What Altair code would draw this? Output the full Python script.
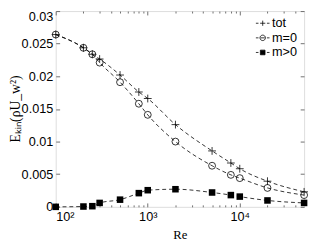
import altair as alt
import pandas as pd

re_vals = [100, 200, 250, 300, 500, 800, 1000, 2000, 5000, 8000, 10000, 20000, 50000]
tot = [0.0264, 0.02437, 0.02338, 0.02265, 0.0202, 0.0176, 0.0166, 0.0126, 0.00857, 0.00672, 0.00584, 0.00393, 0.0023]
m0 = [0.0264, 0.02437, 0.02338, 0.0221, 0.0191, 0.0158, 0.0141, 0.0100, 0.0063, 0.0049, 0.0044, 0.0029, 0.0018]
mpos = [0.0000, 0.00005, 0.0001, 0.0006, 0.0011, 0.0021, 0.00255, 0.0027, 0.0022, 0.0018, 0.00157, 0.00098, 0.0006]
series_names = ["tot", "m=0", "m>0"]

major_x = [100, 1000, 10000]
minor_x = [200, 300, 400, 500, 600, 700, 800, 900,
           2000, 3000, 4000, 5000, 6000, 7000, 8000, 9000,
           20000, 30000, 40000]
y_ticks = [0, 0.005, 0.01, 0.015, 0.02, 0.025, 0.03]

rows = []
for name, vals in zip(series_names, [tot, m0, mpos]):
    for r, v in zip(re_vals, vals):
        rows.append({"Re": r, "value": v, "series": name})
df = pd.DataFrame(rows)

GRAY = "#6e6e6e"
xscale = alt.Scale(type="log", domain=[100, 50000], nice=False)
yscale = alt.Scale(domain=[0, 0.03], nice=False, zero=False)

def tick_axis(orient, values, size, offset):
    return alt.Axis(orient=orient, values=values, labels=False, domain=False,
                    grid=False, ticks=True, tickSize=size, offset=offset,
                    tickColor=GRAY, tickWidth=1, title=None)

base = alt.Chart(df)

lines = base.mark_line(color="black", strokeWidth=0.8, strokeDash=[4, 3],
                       interpolate="monotone").encode(
    x=alt.X("Re:Q", scale=xscale,
            axis=alt.Axis(orient="bottom", values=major_x, ticks=False, tickSize=0,
                          domain=False, grid=False, labelPadding=4,
                          labelFont="Liberation Sans", labelFontSize=13, labelColor="black",
                          labelExpr="datum.value == 100 ? '10²' : datum.value == 1000 ? '10³' : '10⁴'",
                          title="Re", titleFont="Liberation Serif", titleFontSize=13,
                          titleFontWeight="normal", titleX=127.5, titleY=28,
                          titleBaseline="middle", titleColor="black")),
    y=alt.Y("value:Q", scale=yscale,
            axis=alt.Axis(orient="left", values=y_ticks, ticks=False, tickSize=0,
                          domain=False, grid=False, labelPadding=3,
                          labelFont="Liberation Sans", labelFontSize=13, labelColor="black",
                          labelBaseline={"condition": {"test": "datum.value > 0.029", "value": "top"},
                                         "value": "middle"},
                          labelExpr="datum.value == 0 ? '0' : format(datum.value, '~g')",
                          title="Eₖᵢₙ(ρU_w²)", titleFont="Liberation Serif", titleFontSize=14,
                          titleFontWeight="normal", titleAngle=-90, titleX=-41, titleY=100,
                          titleBaseline="middle", titleAlign="center", titleColor="black")),
    detail="series:N",
)

plus_path = "M-1,0L1,0M0,-1L0,1"

pts_tot = base.transform_filter(alt.datum.series == "tot").mark_point(
    shape=plus_path, size=64, filled=False, stroke="black", strokeWidth=0.8, opacity=1
).encode(
    x=alt.X("Re:Q", scale=xscale, axis=tick_axis("bottom", major_x, 4, -4)),
    y=alt.Y("value:Q", scale=yscale, axis=tick_axis("left", y_ticks, 4, -4)),
)

pts_m0 = base.transform_filter(alt.datum.series == "m=0").mark_point(
    shape="circle", size=50, filled=False, stroke="black", strokeWidth=0.8, opacity=1
).encode(
    x=alt.X("Re:Q", scale=xscale, axis=tick_axis("bottom", minor_x, 2, -2)),
    y=alt.Y("value:Q", scale=yscale, axis=tick_axis("right", y_ticks, 4, -4)),
)

pts_mp = base.transform_filter(alt.datum.series == "m>0").mark_point(
    shape="square", size=45, filled=True, color="black", opacity=1
).encode(
    x=alt.X("Re:Q", scale=xscale, axis=tick_axis("top", major_x, 4, -4)),
    y=alt.Y("value:Q", scale=yscale, axis=None),
)

legend_paths = [
    "M-1,0L-0.62,0M-0.38,0L0.38,0M0,-0.38L0,0.38M0.62,0L1,0",
    "M-1,0L-0.62,0M0.62,0L1,0M-0.3,0L0.3,0M0.4,0A0.4,0.4 0 1 1 -0.4,0A0.4,0.4 0 1 1 0.4,0",
    "M-1,0L-0.62,0M0.62,0L1,0M-0.34,-0.34L0.34,-0.34L0.34,0.34L-0.34,0.34Z",
]

leg = alt.Legend(orient="none", legendX=205, legendY=5, title=None,
                 symbolSize=196, symbolStrokeWidth=0.8,
                 labelFont="Liberation Sans", labelFontSize=13, labelColor="black",
                 rowPadding=0, padding=0, labelOffset=2)

legend_layer = base.transform_filter("false").mark_point(
    strokeWidth=0.8, opacity=1
).encode(
    x=alt.X("Re:Q", scale=xscale, axis=tick_axis("top", minor_x, 2, -2)),
    y=alt.Y("value:Q", scale=yscale, axis=None),
    shape=alt.Shape("series:N", scale=alt.Scale(domain=series_names, range=legend_paths),
                    title=None, legend=leg),
    fill=alt.Fill("series:N", scale=alt.Scale(domain=series_names,
                                              range=["transparent", "transparent", "black"]),
                  title=None, legend=leg),
    stroke=alt.Stroke("series:N", scale=alt.Scale(domain=series_names,
                                                  range=["black", "black", "black"]),
                      title=None, legend=leg),
)

chart = alt.layer(lines, pts_tot, pts_m0, pts_mp, legend_layer).resolve_axis(
    x="independent", y="independent"
).properties(
    width=255, height=201,
    autosize=alt.AutoSizeParams(type="none"),
    padding={"left": 49, "top": 0, "right": 4, "bottom": 35},
).configure_view(
    stroke=GRAY, strokeWidth=1
).configure(background="white")

chart.save("out.html", embed_options={"renderer": "svg", "actions": False})
